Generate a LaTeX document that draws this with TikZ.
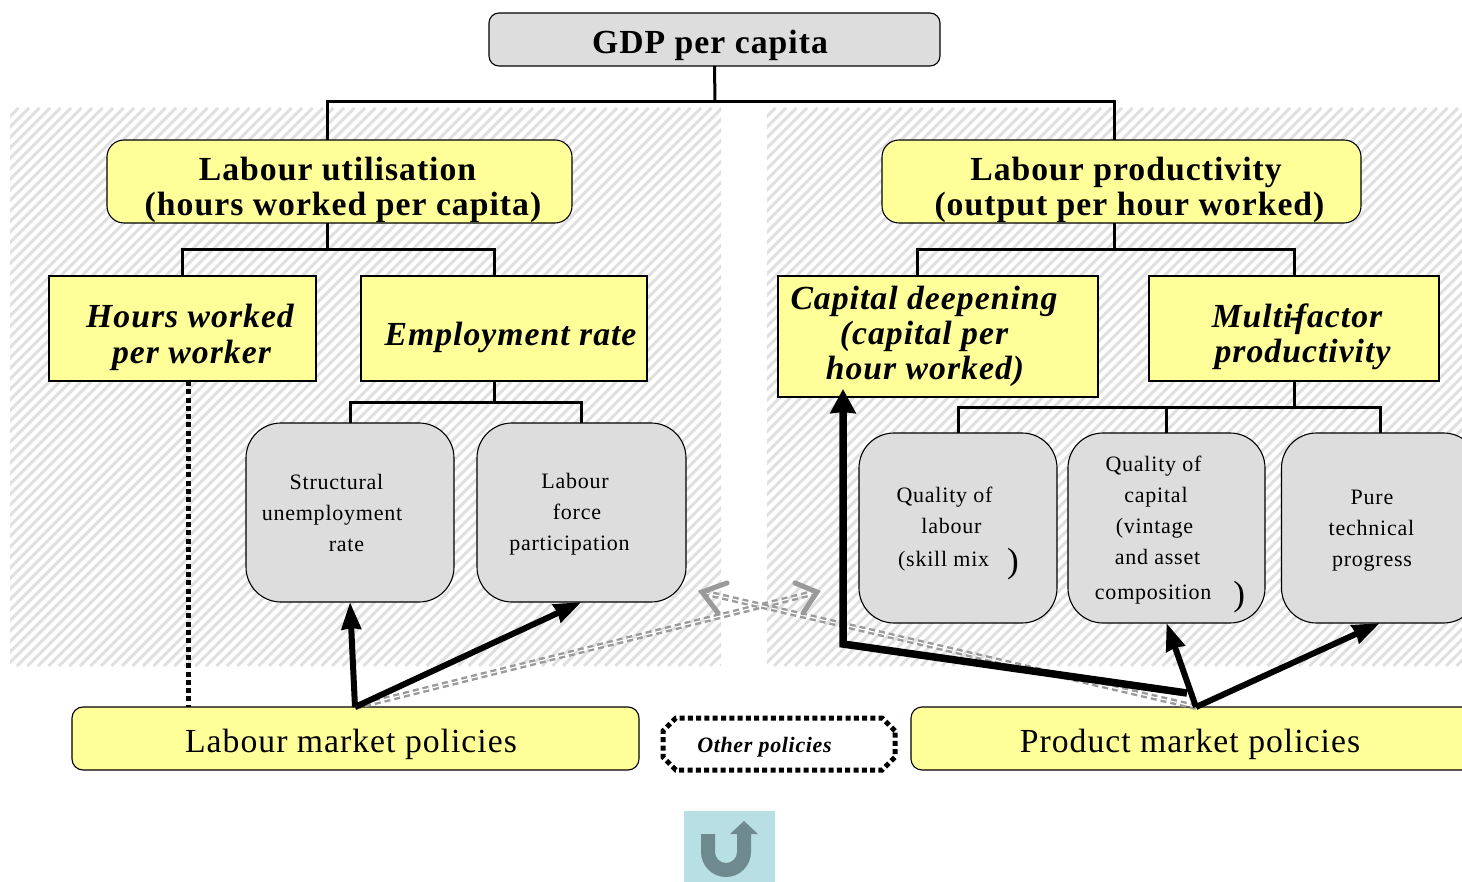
\documentclass[tikz,border=0pt]{standalone}
\usepackage{fontspec}
\setmainfont[LetterSpace=3]{Liberation Serif}
\newfontfamily\driverfont[LetterSpace=3.5]{Liberation Serif}
\usetikzlibrary{arrows.meta,shapes.misc}
\definecolor{boxyellow}{HTML}{FFFF99}
\definecolor{boxgrey}{HTML}{DDDDDD}
\definecolor{hatchgrey}{HTML}{E0E0E0}
\definecolor{crossgrey}{HTML}{9A9A9A}
\definecolor{iconback}{HTML}{B8DFE3}
\definecolor{iconfront}{HTML}{6F8A8E}
\newcommand{\bigfont}{\fontsize{33.7}{35.2}\selectfont}
\newcommand{\smallfont}{\driverfont\fontsize{22}{31}\selectfont}
\newcommand{\closer}{\raisebox{-6pt}{\fontsize{35}{31}\selectfont )}}
% one line of a box, moved sideways from the box centre
\newcommand{\lineat}[2]{\makebox[0pt]{\hspace*{#1pt}\hspace*{#1pt}#2}}
% taller first line pushes the text of a box down
\newcommand{\dropby}[1]{\rule{0pt}{#1pt}}
\tikzstyle{cell} = [draw, line width=1.1pt, inner sep=0pt, outer sep=0pt, align=center]
\tikzstyle{headbox} = [cell, fill=boxgrey, rounded corners=10pt, minimum width=451pt, minimum height=53pt, font=\bigfont\bfseries]
\tikzstyle{leadbox} = [cell, fill=boxyellow, rounded corners=17pt, minimum height=83pt, font=\bigfont\bfseries]
\tikzstyle{factorbox} = [cell, fill=boxyellow, minimum height=105pt, font=\bigfont\bfseries\itshape]
\tikzstyle{driverbox} = [cell, fill=boxgrey, rounded corners=35pt, font=\smallfont]
\tikzstyle{policybox} = [cell, fill=boxyellow, rounded corners=11pt, minimum width=567pt, minimum height=63pt, font=\bigfont]
\tikzstyle{otherbox} = [draw, line width=5pt, dash pattern=on 5pt off 3.3pt, chamfered rectangle, chamfered rectangle angle=45, chamfered rectangle xsep=20pt, inner sep=0pt, minimum width=232pt, minimum height=52pt, font=\fontsize{22}{24}\selectfont\bfseries\itshape]
\tikzstyle{link} = [draw, line width=3pt]
\tikzstyle{dotlink} = [draw, line width=5pt, dash pattern=on 5pt off 3.3pt]
\tikzstyle{driverline} = [draw, line width=6pt, -{Stealth[length=27pt,width=19pt,inset=1pt]}]
\tikzstyle{capline} = [draw, line width=7.5pt, miter limit=10, -{Stealth[length=24pt,width=25pt,inset=1pt]}]
\tikzstyle{crossline} = [draw=crossgrey, line width=2.4pt, double=white, double distance=1.2pt, dash pattern=on 6pt off 4pt]
\tikzstyle{crosshead} = [draw=crossgrey, line width=5pt, line cap=round]

\begin{document}
\begin{tikzpicture}[x=1pt, y=-1pt]
	\useasboundingbox (0,0) rectangle (1462,882);
	% hatched panels
	\foreach \xa/\xb in {10/721, 767/1462} {
		\begin{scope}
			\clip (\xa,108) rectangle (\xb,666);
			\foreach \s in {0,10.5,...,1300} {
				\draw [hatchgrey, line width=3pt] (\xa-560+\s,666) -- ++(558,-558);
			}
		\end{scope}
	}
	% boxes
	\node [headbox] (gdp) at (714.5,39.5) {\dropby{35}\lineat{-4.5}{GDP per capita}};
	\node [leadbox, minimum width=465pt, below of=gdp, xshift=-375pt, node distance=142pt] (util) {\dropby{40}\lineat{-2}{Labour utilisation}\\\lineat{3.5}{(hours worked per capita)}};
	\node [leadbox, minimum width=479pt, right of=util, node distance=782pt] (prod) {\dropby{40}\lineat{4.5}{Labour productivity}\\\lineat{8}{(output per hour worked)}};
	\node [factorbox, minimum width=267pt, below of=util, xshift=-157pt, node distance=147pt] (hours) {\dropby{41}\lineat{7.5}{Hours worked}\\\lineat{9}{per worker}};
	\node [factorbox, minimum width=286pt, right of=hours, node distance=321.5pt] (emp) {\dropby{41}\lineat{6.5}{Employment rate}};
	\node [factorbox, minimum width=320pt, minimum height=121pt, right of=emp, node distance=434pt, yshift=-8pt] (cap) {\lineat{-14}{Capital deepening}\\\lineat{-14}{(capital per}\\\lineat{-13}{hour worked)}};
	\node [factorbox, minimum width=290pt, right of=emp, node distance=790pt] (mfp) {\dropby{41}\lineat{3}{Multi\kern-3pt-\kern-6pt factor}\\\lineat{8.5}{productivity}};
	\node [driverbox, minimum width=208pt, minimum height=179pt, below of=emp, xshift=-154pt, node distance=184pt] (struct) {\lineat{-13.5}{Structural}\\\lineat{-18}{unemployment}\\\lineat{-3.5}{rate}};
	\node [driverbox, minimum width=209pt, minimum height=179pt, right of=struct, node distance=231.5pt] (force) {\dropby{18}\lineat{-6.5}{Labour}\\\lineat{-4.5}{force}\\\lineat{-12}{participation}};
	\node [driverbox, minimum width=198pt, minimum height=190pt, below of=mfp, xshift=-336pt, node distance=199.5pt] (qlab) {\dropby{26}\lineat{-13.5}{Quality of}\\\lineat{-6.5}{labour}\\[2pt]\lineat{0.5}{(skill mix\hspace*{18pt}\closer}};
	\node [driverbox, minimum width=197pt, minimum height=190pt, right of=qlab, node distance=208.5pt] (qcap) {\dropby{28}\lineat{-13}{Quality of}\\\lineat{-10.5}{capital}\\\lineat{-12}{(vintage}\\\lineat{-9}{and asset}\\[4pt]\lineat{3.5}{composition\hspace*{22pt}\closer}};
	\node [driverbox, minimum width=197pt, minimum height=190pt, right of=qcap, node distance=213.5pt] (pure) {\dropby{20}\lineat{-8}{Pure}\\\lineat{-8.5}{technical}\\\lineat{-8}{progress}};
	\node [policybox] (lmp) at (355.5,738.5) {\dropby{35}\lineat{-4.5}{Labour market policies}};
	\node [policybox, right of=lmp, node distance=839pt] (pmp) {\dropby{35}\lineat{-4.5}{Product market policies}};
	\node [otherbox] (other) at (779,744) {\dropby{21}\lineat{-14.5}{Other policies}};
	% bus points on the tree
	\coordinate (gdpbus) at (715,102);
	\coordinate (utiltop) at (327,140);
	\coordinate (prodtop) at (1114,140);
	\coordinate (utilfoot) at (327,223);
	\coordinate (utilbus) at (327,250);
	\coordinate (hourstop) at (182,276);
	\coordinate (emptop) at (494,276);
	\coordinate (prodfoot) at (1114,223);
	\coordinate (prodbus) at (1114,250);
	\coordinate (captop) at (917,276);
	\coordinate (mfptop) at (1294,276);
	\coordinate (empfoot) at (494,381);
	\coordinate (empbus) at (494,403);
	\coordinate (mfpfoot) at (1294,381);
	\coordinate (mfpbus) at (1294,408);
	\coordinate (qcaptop) at (1166,433);
	\coordinate (hoursfoot) at (188,381);
	\coordinate (lmptop) at (188,707);
	\coordinate (lmpfoot) at (355,707);
	\coordinate (pmpfoot) at (1196,707);
	\coordinate (capjoin) at (1187,693);
	\coordinate (capbend) at (843,644);
	\coordinate (captip) at (843,389);
	\coordinate (crossright) at (817,592);
	\coordinate (crossleft) at (702,592);
	% tree
	\path [link] (gdp.south) -- (gdpbus);
	\path [link] (gdpbus) -| (utiltop);
	\path [link] (gdpbus) -| (prodtop);
	\path [link] (utilfoot) -- (utilbus);
	\path [link] (utilbus) -| (hourstop);
	\path [link] (utilbus) -| (emptop);
	\path [link] (prodfoot) -- (prodbus);
	\path [link] (prodbus) -| (captop);
	\path [link] (prodbus) -| (mfptop);
	\path [link] (empfoot) -- (empbus);
	\path [link] (empbus) -| (struct.north);
	\path [link] (empbus) -| (force.north);
	\path [link] (mfpfoot) -- (mfpbus);
	\path [link] (mfpbus) -| (qlab.north);
	\path [link] (mfpbus) -| (qcaptop);
	\path [link] (mfpbus) -| (pure.north);
	\path [dotlink] (hoursfoot) -- (lmptop);
	% grey crossing arrows
	\path [crossline] (lmpfoot) -- (crossright);
	\path [crossline] (pmpfoot) -- (crossleft);
	\path [crosshead] (795,583) -- (crossright) -- (803,613);
	\path [crosshead] (727,583) -- (crossleft) -- (718,613);
	% policy arrows
	\path [driverline] (lmpfoot) -- (struct.south);
	\path [driverline] (lmpfoot) -- (force.south);
	\path [driverline] (pmpfoot) -- (qcap.south);
	\path [driverline] (pmpfoot) -- (pure.south);
	\path [capline] (capjoin) -- (capbend) -- (captip);
	% return icon
	\fill [iconback] (684,811) rectangle (775,882);
	\fill [iconfront] (701,834) -- (715,834) -- (715,852) arc [start angle=180, end angle=360, radius=11pt] -- (737,834) -- (730,834) -- (744,821) -- (758,834) -- (751,834) -- (751,852) arc [start angle=0, end angle=-180, radius=25pt] -- cycle;
\end{tikzpicture}
\end{document}
